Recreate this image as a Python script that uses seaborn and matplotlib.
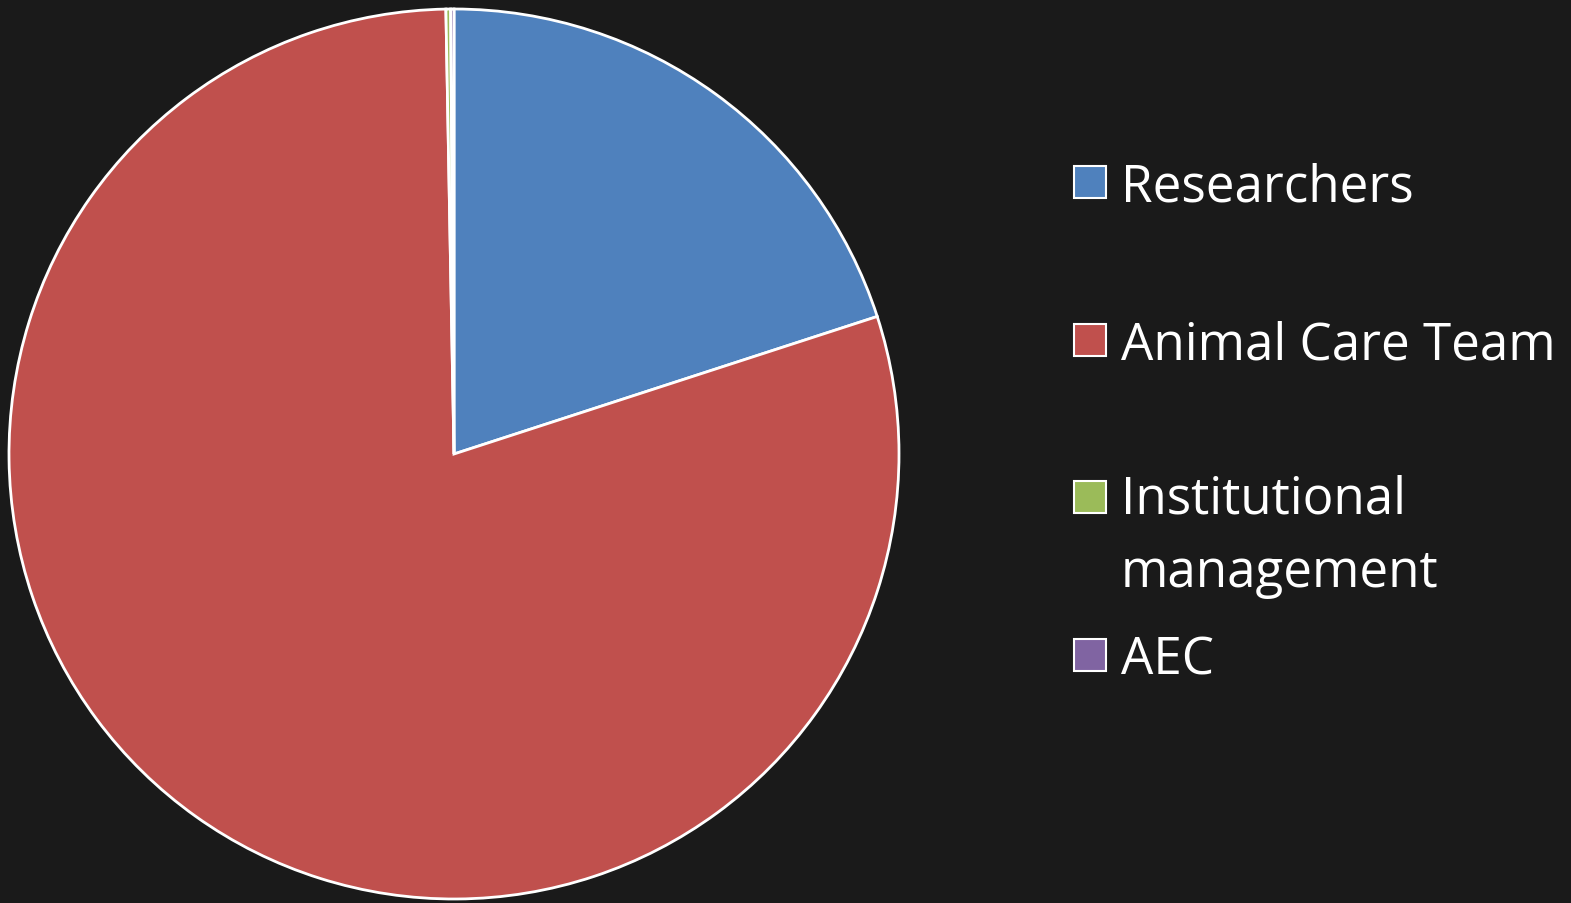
import matplotlib
matplotlib.use("Agg")
import matplotlib.pyplot as plt
import matplotlib.patches as mpatches
import seaborn as sns

# data
labels = ["Researchers", "Animal Care Team", "Institutional\nmanagement", "AEC"]
values = [20.0, 79.71, 0.17, 0.12]
colors = ["#4F81BD", "#C0504D", "#9BBB59", "#8064A2"]

sns.set_style("dark")
plt.rcParams["font.family"] = ["Open Sans", "DejaVu Sans"]

bg = "#1a1a1a"
W, H = 1571, 904
fig = plt.figure(figsize=(W / 100, H / 100), dpi=100, facecolor=bg)

# pie centre and radius in pixels
cx, cy, r = 454, 455, 445
ax = fig.add_axes([(cx - r) / W, (H - cy - r) / H, 2 * r / W, 2 * r / H])
ax.set_facecolor(bg)
ax.pie(values, colors=colors, startangle=90, counterclock=False,
       wedgeprops=dict(edgecolor="white", linewidth=2))
ax.set_xlim(-1.0, 1.0)
ax.set_ylim(-1.0, 1.0)
ax.set_aspect("equal")
ax.axis("off")

# legend drawn by hand to match the spacing
rows_y = [183, 341, 498, 656]
for lab, col, yy in zip(labels, colors, rows_y):
    sq = mpatches.Rectangle((1074 / W, (H - yy - 16) / H), 32 / W, 32 / H,
                            transform=fig.transFigure, facecolor=col,
                            edgecolor="white", linewidth=1.5)
    fig.patches.append(sq)
    if "\n" in lab:
        fig.text(1121 / W, (H - yy + 24) / H, lab, color="white", fontsize=36.8,
                 va="top", ha="left", linespacing=1.6)
    else:
        fig.text(1121 / W, (H - yy - 5) / H, lab, color="white", fontsize=36.8,
                 va="center", ha="left")

fig.savefig("out.png", dpi=100, facecolor=bg)
